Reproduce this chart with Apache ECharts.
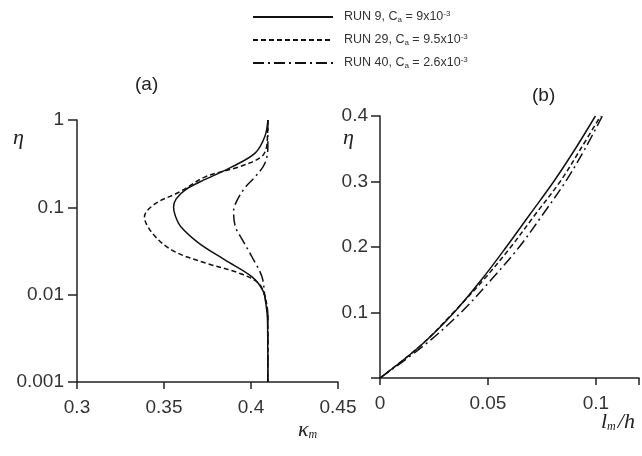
<!DOCTYPE html>
<html>
<head>
<meta charset="utf-8">
<script src="https://cdn.jsdelivr.net/npm/echarts@6/dist/echarts.min.js"></script>
<style>
  html, body { margin: 0; padding: 0; background: #fff; }
  #chart { width: 642px; height: 456px; }
</style>
</head>
<body>
<div id="chart"></div>
<script>
// legend labels
var runNames = ['RUN 9', 'RUN 29', 'RUN 40'];
var runCa = ['9', '9.5', '2.6'];

// panel (a): kappa_m against eta (log scale)
var etaA9 = [1, 0.65, 0.42, 0.29, 0.21, 0.16, 0.125, 0.1, 0.08, 0.06, 0.039, 0.025, 0.016, 0.011, 0.008, 0.005, 0.001];
var kapA9 = [0.4097, 0.408, 0.4025, 0.389, 0.374, 0.3625, 0.357, 0.3555, 0.3565, 0.3597, 0.370, 0.385, 0.4006, 0.407, 0.4085, 0.4095, 0.4097];
var etaA29 = [1, 0.7, 0.5, 0.38, 0.29, 0.225, 0.15, 0.11, 0.078, 0.05, 0.032, 0.023, 0.0177, 0.0135, 0.0095, 0.0056, 0.001];
var kapA29 = [0.4097, 0.4095, 0.409, 0.406, 0.393, 0.374, 0.359, 0.345, 0.3388, 0.3435, 0.355, 0.374, 0.393, 0.4044, 0.408, 0.4097, 0.4097];
var etaA40 = [1, 0.5, 0.32, 0.225, 0.17, 0.12, 0.09, 0.06, 0.043, 0.027, 0.016, 0.0095, 0.0056, 0.001];
var kapA40 = [0.4097, 0.4097, 0.408, 0.4025, 0.3968, 0.392, 0.390, 0.391, 0.3949, 0.4006, 0.4063, 0.408, 0.4097, 0.4097];

// panel (b): l_m/h against eta
var etaB = [0, 0.05, 0.1, 0.15, 0.2, 0.25, 0.3, 0.35, 0.4];
var lmB9 = [0, 0.019, 0.0343, 0.047, 0.0585, 0.0695, 0.0805, 0.0905, 0.0998];
var lmB29 = [0, 0.019, 0.034, 0.048, 0.0606, 0.072, 0.0835, 0.093, 0.1022];
var lmB40 = [0, 0.0205, 0.0375, 0.0515, 0.0645, 0.0755, 0.086, 0.095, 0.103];

var ticksB = [0, 0.05, 0.1];

function pairs(xs, ys) {
  var out = [];
  for (var i = 0; i < xs.length; i++) out.push([xs[i], ys[i]]);
  return out;
}

var lineTypes = ['solid', [5, 3], [11, 4, 2, 4]];
var axisCol = '#222';
var labCol = '#333';
var font = 'Liberation Sans, Arial, sans-serif';
var serif = '"Liberation Serif", "DejaVu Serif", serif';

function mkSeries(name, idx, data, type) {
  return {
    name: name, type: 'line', xAxisIndex: idx, yAxisIndex: idx,
    data: data, showSymbol: false, symbol: 'none', smooth: 0.35,
    lineStyle: { color: '#111', width: 1.5, type: type },
    itemStyle: { color: '#111' }
  };
}

var myChart = echarts.init(document.getElementById('chart'));
var option = {
  backgroundColor: '#fff',
  animation: false,
  textStyle: { fontFamily: font },
  legend: {
    orient: 'vertical', left: 247, top: 5,
    itemWidth: 80, itemHeight: 12, itemGap: 9,
    icon: 'inherit',
    itemStyle: { opacity: 0 },
    data: runNames,
    formatter: function (name) {
      var i = runNames.indexOf(name);
      return '{t|' + name + ', C}{s|a}{t| = ' + runCa[i] + 'x10}{p|-3}';
    },
    textStyle: {
      color: '#333',
      padding: [0, 0, 0, 6],
      rich: {
        t: { fontSize: 12.5, fontFamily: font, color: '#333' },
        s: { fontSize: 8, fontFamily: font, color: '#333', verticalAlign: 'bottom', padding: [6, 0, 0, 0] },
        p: { fontSize: 8, fontFamily: font, color: '#333', verticalAlign: 'top', padding: [0, 0, 6, 0] }
      }
    }
  },
  title: [
    { text: '(a)', left: 135, top: 75, padding: 0, textStyle: { fontSize: 19, fontWeight: 'normal', color: '#222', fontFamily: font } },
    { text: '(b)', left: 532, top: 86, padding: 0, textStyle: { fontSize: 19, fontWeight: 'normal', color: '#222', fontFamily: font } }
  ],
  grid: [
    { left: 77, right: 304, top: 120, bottom: 74 },
    { left: 380, right: 2, top: 116, bottom: 78 }
  ],
  xAxis: [
    {
      gridIndex: 0, type: 'value', min: 0.3, max: 0.45, interval: 0.05,
      axisLine: { lineStyle: { color: axisCol, width: 1.5 } },
      axisTick: { show: true, length: 7, lineStyle: { color: axisCol, width: 1.5 } },
      axisLabel: { color: labCol, fontSize: 19, margin: 16, fontFamily: font,
        formatter: function (v) { return String(Math.round(v * 100) / 100); } },
      splitLine: { show: false }
    },
    {
      gridIndex: 1, type: 'value', min: 0, max: 0.12, interval: 0.05,
      axisLine: { lineStyle: { color: axisCol, width: 1.5 } },
      axisTick: { show: true, length: 7, lineStyle: { color: axisCol, width: 1.5 } },
      axisLabel: { color: labCol, fontSize: 19, margin: 16, fontFamily: font,
        formatter: function (v) {
          var r = Math.round(v * 100) / 100;
          return ticksB.indexOf(r) >= 0 && Math.abs(r - v) < 1e-9 ? String(r) : '';
        } },
      splitLine: { show: false }
    }
  ],
  yAxis: [
    {
      gridIndex: 0, type: 'log', logBase: 10, min: 0.001, max: 1,
      axisLine: { show: true, lineStyle: { color: axisCol, width: 1.5 } },
      axisTick: { show: true, inside: false, length: 9, lineStyle: { color: axisCol, width: 1.5 } },
      axisLabel: { color: labCol, fontSize: 19, margin: 13, fontFamily: font,
        formatter: function (v) { return String(v); } },
      minorTick: { show: false },
      splitLine: { show: false }
    },
    {
      gridIndex: 1, type: 'value', min: 0, max: 0.4, interval: 0.1,
      axisLine: { show: true, lineStyle: { color: axisCol, width: 1.5 } },
      axisTick: { show: true, inside: false, length: 9, lineStyle: { color: axisCol, width: 1.5 } },
      axisLabel: { color: labCol, fontSize: 19, margin: 12, fontFamily: font,
        formatter: function (v) { return v === 0 ? '' : String(Math.round(v * 10) / 10); } },
      splitLine: { show: false }
    }
  ],
  graphic: [
    { type: 'text', left: 13, top: 127, style: { text: 'η', font: 'italic 22px ' + serif, fill: '#222' } },
    { type: 'text', left: 343, top: 127, style: { text: 'η', font: 'italic 22px ' + serif, fill: '#222' } },
    { type: 'text', left: 298, top: 419, style: {
      text: '{k|κ}{m|m}',
      rich: {
        k: { font: 'italic 22px ' + serif, fill: '#222' },
        m: { font: 'italic 12px ' + serif, fill: '#222', verticalAlign: 'bottom', padding: [8, 0, 0, 0] }
      } } },
    { type: 'text', left: 601, top: 411, style: {
      text: '{l|l}{m|m}{l|/h}',
      rich: {
        l: { font: 'italic 22px ' + serif, fill: '#222' },
        m: { font: 'italic 12px ' + serif, fill: '#222', verticalAlign: 'bottom', padding: [8, 2, 0, 0] }
      } } }
  ],
  series: [
    mkSeries(runNames[0], 0, pairs(kapA9, etaA9), lineTypes[0]),
    mkSeries(runNames[1], 0, pairs(kapA29, etaA29), lineTypes[1]),
    mkSeries(runNames[2], 0, pairs(kapA40, etaA40), lineTypes[2]),
    mkSeries(runNames[0], 1, pairs(lmB9, etaB), lineTypes[0]),
    mkSeries(runNames[1], 1, pairs(lmB29, etaB), lineTypes[1]),
    mkSeries(runNames[2], 1, pairs(lmB40, etaB), lineTypes[2])
  ]
};
if (option && typeof option === 'object') {
  myChart.setOption(option, true);
}
</script>
</body>
</html>
